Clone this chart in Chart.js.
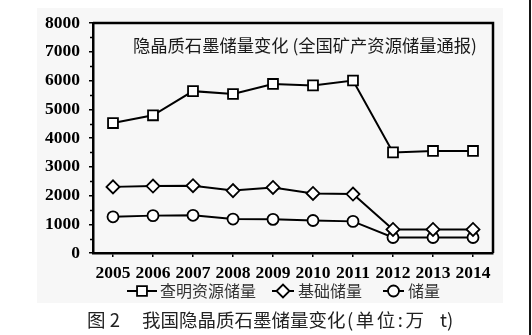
<!DOCTYPE html>
<html>
<head>
<meta charset="utf-8">
<script src="https://cdn.jsdelivr.net/npm/chart.js@4.4.1/dist/chart.umd.min.js"></script>
<style>
    html, body { margin: 0; padding: 0; background: #fff; }
    #wrap { width: 532px; height: 335px; position: relative; }
</style>
</head>
<body>
<div id="wrap"><canvas id="graphiteChart" width="532" height="335"></canvas></div>
<script>
// values (万 t)
const years = ["2005", "2006", "2007", "2008", "2009", "2010", "2011", "2012", "2013", "2014"];
const provenResources = [4520, 4790, 5630, 5530, 5880, 5830, 6000, 3500, 3550, 3550];
const basicReserves = [2300, 2330, 2340, 2170, 2280, 2070, 2050, 820, 820, 820];
const reserves = [1260, 1300, 1310, 1180, 1170, 1130, 1100, 540, 540, 540];
const seriesNames = ["查明资源储量", "基础储量", "储量"];
const innerTitle = "隐晶质石墨储量变化 (全国矿产资源储量通报)";
const figLabel = "图 2";
const captionMain = "我国隐晶质石墨储量变化";
const captionUnit = "(单位:万";
const captionUnitEnd = "t)";
const yMax = 8000;
const yStep = 1000;

const tickFont = { family: "'Liberation Serif', 'DejaVu Serif', serif", size: 17.5, weight: "bold" };
const cjk = "'Noto Sans CJK SC', 'Noto Sans', sans-serif";

const pointStyles = ["rect", "rectRot", "circle"];
const pointSizes = [7, 6.5, 5.5];

// page background, frame and the extra text around the plot
const decorations = {
    id: "decorations",
    beforeDraw(chart) {
        const ctx = chart.ctx;
        ctx.save();
        ctx.fillStyle = "#fff";
        ctx.fillRect(0, 0, chart.width, chart.height);
        ctx.fillStyle = "#f7f7f7";
        ctx.fillRect(37, 8, 466, 295);
        ctx.fillStyle = "#151515";
        ctx.fillRect(529, 0, 2, chart.height);
        ctx.restore();
    },
    afterDraw(chart) {
        const ctx = chart.ctx;
        const area = chart.chartArea;
        const y = chart.scales.y;
        ctx.save();

        // top and right edges of the plot box
        ctx.strokeStyle = "#000";
        ctx.lineWidth = 2.5;
        ctx.beginPath();
        ctx.moveTo(area.left, area.top);
        ctx.lineTo(area.right, area.top);
        ctx.lineTo(area.right, area.bottom);
        ctx.stroke();

        // minor ticks on the value axis
        ctx.lineWidth = 1.5;
        ctx.beginPath();
        for (let v = yStep / 2; v < yMax; v += yStep) {
            const py = Math.round(y.getPixelForValue(v)) + 0.5;
            ctx.moveTo(area.left - 3, py);
            ctx.lineTo(area.left, py);
        }
        ctx.stroke();

        // title inside the plot
        ctx.fillStyle = "#1a1a1a";
        ctx.font = "17.3px " + cjk;
        ctx.textBaseline = "middle";
        ctx.textAlign = "left";
        ctx.fillText(innerTitle, 133, 45);

        // legend under the year labels
        const legendY = 291;
        const legendItems = [
            { lineFrom: 127, lineTo: 157, text: 160 },
            { lineFrom: 272, lineTo: 294, text: 298 },
            { lineFrom: 383, lineTo: 404, text: 408 }
        ];
        ctx.font = "16px " + cjk;
        legendItems.forEach((item, i) => {
            ctx.strokeStyle = "#000";
            ctx.lineWidth = 2;
            ctx.beginPath();
            ctx.moveTo(item.lineFrom, legendY);
            ctx.lineTo(item.lineTo, legendY);
            ctx.stroke();
            ctx.fillStyle = "#fff";
            ctx.lineWidth = 1.8;
            Chart.helpers.drawPoint(ctx, {
                pointStyle: pointStyles[i],
                radius: pointSizes[i],
                rotation: 0,
                borderWidth: 1.8
            }, (item.lineFrom + item.lineTo) / 2, legendY);
            ctx.fillStyle = "#333";
            ctx.fillText(seriesNames[i], item.text, legendY);
        });

        // figure caption
        ctx.fillStyle = "#222";
        ctx.font = "18.5px " + cjk;
        ctx.fillText(figLabel, 87, 320);
        ctx.fillText(captionMain, 142, 320);
        ctx.letterSpacing = "2.5px";
        ctx.fillText(captionUnit, 347, 320);
        ctx.letterSpacing = "0px";
        ctx.fillText(captionUnitEnd, 440, 320);

        ctx.restore();
    }
};

function makeDataset(label, values, i) {
    return {
        label: label,
        data: values,
        borderColor: "#000",
        borderWidth: 2,
        pointStyle: pointStyles[i],
        pointRadius: pointSizes[i],
        pointHoverRadius: pointSizes[i],
        pointBackgroundColor: "#fff",
        pointBorderColor: "#000",
        pointBorderWidth: 1.8,
        tension: 0,
        clip: false
    };
}

new Chart(document.getElementById("graphiteChart"), {
    type: "line",
    data: {
        labels: years,
        datasets: [
            makeDataset(seriesNames[0], provenResources, 0),
            makeDataset(seriesNames[1], basicReserves, 1),
            makeDataset(seriesNames[2], reserves, 2)
        ]
    },
    options: {
        responsive: false,
        animation: false,
        layout: { padding: { top: 23, right: 39, left: 0, bottom: 0 } },
        plugins: {
            legend: { display: false },
            title: { display: false },
            tooltip: { enabled: false }
        },
        scales: {
            x: {
                type: "category",
                offset: true,
                afterFit(scale) { scale.height = 82; },
                grid: { drawOnChartArea: false, offset: false, color: "#000", lineWidth: 1.5, tickLength: 4 },
                border: { display: true, color: "#000", width: 2.5 },
                ticks: { color: "#000", font: tickFont, padding: 6, maxRotation: 0, autoSkip: false }
            },
            y: {
                min: 0,
                max: yMax,
                afterFit(scale) { scale.width = 93; },
                grid: { drawOnChartArea: false, color: "#000", lineWidth: 1.5, tickLength: 4 },
                border: { display: true, color: "#000", width: 2.5 },
                ticks: {
                    stepSize: yStep,
                    color: "#000",
                    font: tickFont,
                    padding: 9,
                    callback: (value) => String(value)
                }
            }
        }
    },
    plugins: [decorations]
});
</script>
</body>
</html>
